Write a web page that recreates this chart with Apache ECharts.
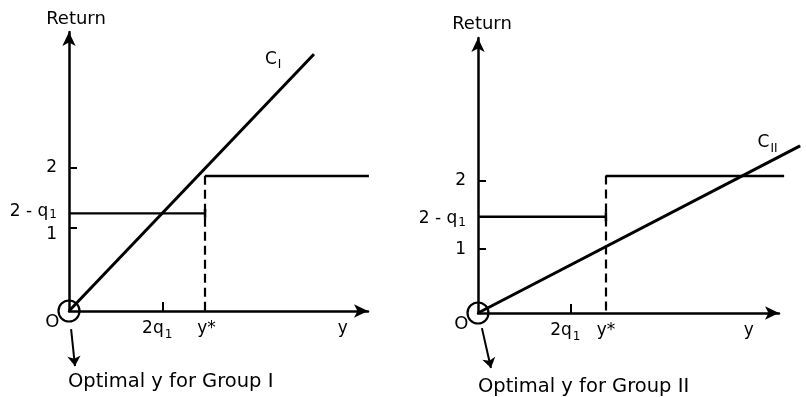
<!DOCTYPE html>
<html><head><meta charset="utf-8">
<script src="https://cdn.jsdelivr.net/npm/echarts@6/dist/echarts.min.js"></script>
<style>html,body{margin:0;padding:0;background:#fff}#c{width:806px;height:397px}</style>
</head><body><div id="c"></div>
<script>
// ---------- data (figure units: x 0..10, y 0..4) ----------
const captions = ['Optimal y for Group I', 'Optimal y for Group II'];
const yAxisName = 'Return';
const costLabels = ['C{s|I}', 'C{s|II}'];
const originLabel = 'O';

// Panel I
const costLine1 = [[0, 0], [8.19, 3.68]];
const lowStep1 = [[0, 1.40], [4.55, 1.40]];
const highStep1 = [[4.55, 1.94], [10.03, 1.94]];
const dashed1 = [[4.55, 1.94], [4.55, 0]];
const yTickVals1 = [1.20, 2.06];
const yLabelVals1 = [1.10, 1.43, 2.06];
const yLabelTexts1 = ['1', '2 - q{s|1}', '2'];
const xTickVals1 = [3.15];
const xLabelVals1 = [2.95, 4.60, 9.16];
const xLabelTexts1 = ['2q{s|1}', 'y*', 'y'];
const pointer1 = [[0.07, -0.26], [0.20, -0.79]];

// Panel II
const costLine2 = [[0, 0], [10.70, 2.43]];
const lowStep2 = [[0, 1.40], [4.25, 1.40]];
const highStep2 = [[4.25, 2.00], [10.17, 2.00]];
const dashed2 = [[4.25, 2.00], [4.25, 0]];
const yTickVals2 = [0.93, 1.92];
const yLabelVals2 = [0.92, 1.37, 1.92];
const yLabelTexts2 = ['1', '2 - q{s|1}', '2'];
const xTickVals2 = [3.07];
const xLabelVals2 = [2.90, 4.25, 9.00];
const xLabelTexts2 = ['2q{s|1}', 'y*', 'y'];
const pointer2 = [[0.13, -0.22], [0.43, -0.80]];

// ---------- build ----------
const FONT = 'DejaVu Sans';
const INK = '#000';
const richX = {
  s: { fontSize: 12, fontFamily: FONT, color: INK, verticalAlign: 'bottom', lineHeight: 24, padding: [0, 0, 0, 1] }
};
const richY = {
  s: { fontSize: 12, fontFamily: FONT, color: INK, verticalAlign: 'bottom', lineHeight: 20, padding: [0, 0, 0, 1] }
};
function lookup(vals, texts) {
  return function (v) {
    for (let i = 0; i < vals.length; i++) if (Math.abs(vals[i] - v) < 1e-6) return texts[i];
    return '';
  };
}
const panels = [
  { cost: costLine1, low: lowStep1, high: highStep1, dash: dashed1, yT: yTickVals1, yL: yLabelVals1, yLT: yLabelTexts1,
    xT: xTickVals1, xL: xLabelVals1, xLT: xLabelTexts1, ptr: pointer1,
    grid: { left: 69, width: 299, top: 32, height: 279 }, costLabelDist: 32, costLabelOff: [0, 5], nameGap: 4, namePad: [0, 0, 0, 14],
    caption: { left: 63, top: 367 } },
  { cost: costLine2, low: lowStep2, high: highStep2, dash: dashed2, yT: yTickVals2, yL: yLabelVals2, yLT: yLabelTexts2,
    xT: xTickVals2, xL: xLabelVals2, xLT: xLabelTexts2, ptr: pointer2,
    grid: { left: 478, width: 301, top: 38, height: 275 }, costLabelDist: 22, costLabelOff: [0, -3], nameGap: 5, namePad: [0, 0, 0, 8],
    caption: { left: 473, top: 372 } }
];

const option = { animation: false, backgroundColor: '#fff', grid: [], xAxis: [], yAxis: [], series: [], title: [] };

function segment(i, coords, width, type, z) {
  return {
    type: 'lines', coordinateSystem: 'cartesian2d', xAxisIndex: i, yAxisIndex: i, clip: false, silent: true, z: z || 3,
    data: [{ coords: coords }], symbol: ['none', 'none'],
    lineStyle: { color: INK, width: width, opacity: 1, curveness: 0, type: type || 'solid' }
  };
}

panels.forEach(function (p, i) {
  option.grid.push(p.grid);
  const axisLine = { show: true, onZero: false, symbol: ['none', 'arrow'], symbolSize: [10, 14], lineStyle: { color: INK, width: 2.5 } };
  option.xAxis.push({
    type: 'value', gridIndex: i, min: 0, max: 10,
    axisLine: axisLine, splitLine: { show: false },
    axisTick: { show: true, inside: true, length: 9, customValues: p.xT, lineStyle: { color: INK, width: 2 } },
    axisLabel: { show: true, customValues: p.xL, margin: 6, hideOverlap: false, formatter: lookup(p.xL, p.xLT),
      color: INK, fontSize: 17, fontFamily: FONT, lineHeight: 24, rich: richX }
  });
  option.yAxis.push({
    type: 'value', gridIndex: i, min: 0, max: 4,
    name: yAxisName, nameLocation: 'end', nameGap: p.nameGap,
    nameTextStyle: { color: INK, fontSize: 18, fontFamily: FONT, padding: p.namePad },
    axisLine: axisLine, splitLine: { show: false },
    axisTick: { show: true, inside: true, length: 8, customValues: p.yT, lineStyle: { color: INK, width: 2 } },
    axisLabel: { show: true, customValues: p.yL, margin: 12, hideOverlap: false, formatter: lookup(p.yL, p.yLT),
      color: INK, fontSize: 17, fontFamily: FONT, lineHeight: 20, rich: richY }
  });
  // cost line (may run past the axis end)
  option.series.push(segment(i, p.cost, 3));
  // cost label carrier at the line end
  option.series.push({
    type: 'scatter', xAxisIndex: i, yAxisIndex: i, clip: false, silent: true, z: 2,
    data: [p.cost[1]], symbol: 'circle', symbolSize: 1,
    itemStyle: { color: INK, opacity: 1 },
    label: { show: true, position: 'left', distance: p.costLabelDist, offset: p.costLabelOff, formatter: costLabels[i],
      color: INK, fontSize: 17, fontFamily: FONT, lineHeight: 24, rich: richX }
  });
  // lower step with end bar
  option.series.push({
    type: 'line', xAxisIndex: i, yAxisIndex: i, symbol: 'none', clip: false, silent: true, z: 3,
    data: [p.low[0], { value: p.low[1], symbol: 'rect', symbolSize: [2.5, 9] }],
    itemStyle: { color: INK },
    lineStyle: { color: INK, width: 2.3 }
  });
  // upper step
  option.series.push(segment(i, p.high, 2.3));
  // dashed drop line
  option.series.push(segment(i, p.dash, 2.2, [9, 5]));
  // origin circle with "O"
  option.series.push({
    type: 'scatter', xAxisIndex: i, yAxisIndex: i, clip: false, silent: true, z: 4,
    data: [[0, 0]], symbol: 'circle', symbolSize: 21,
    itemStyle: { color: 'rgba(0,0,0,0)', borderColor: INK, borderWidth: 2.2, opacity: 1 },
    label: { show: true, position: 'left', distance: 1, offset: [3, 11], formatter: originLabel,
      color: INK, fontSize: 18, fontFamily: FONT }
  });
  // pointer arrow
  option.series.push({
    type: 'lines', coordinateSystem: 'cartesian2d', xAxisIndex: i, yAxisIndex: i, clip: false, silent: true, z: 4,
    data: [{ coords: p.ptr }], symbol: ['none', 'arrow'], symbolSize: 10,
    lineStyle: { color: INK, width: 2, opacity: 1, curveness: 0 }
  });
  option.title.push({
    text: captions[i], left: p.caption.left, top: p.caption.top,
    textStyle: { color: INK, fontSize: 19.5, fontWeight: 'normal', fontFamily: FONT }
  });
});

const chart = echarts.init(document.getElementById('c'), null, { renderer: 'canvas' });
chart.setOption(option);
</script>
</body></html>
